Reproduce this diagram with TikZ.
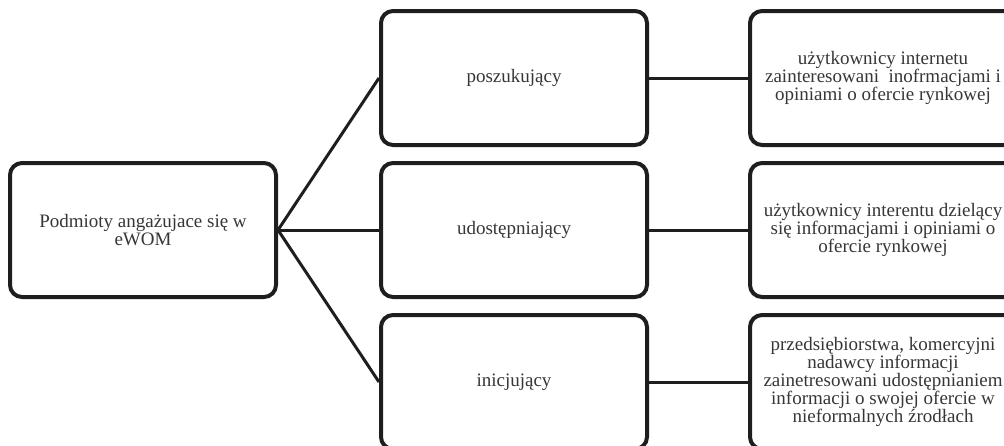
\documentclass[tikz,border=0pt]{standalone}
\usepackage{fontspec}
\setmainfont{Liberation Serif}
\definecolor{edge}{HTML}{1E1E1E}
\definecolor{txt}{HTML}{363636}
\begin{document}
\begin{tikzpicture}[x=1pt,y=-1pt,
  box/.style={draw=edge, line width=4pt, rounded corners=12pt, minimum width=266pt, minimum height=134pt, inner sep=0pt, align=center, text=txt, font=\fontsize{19}{18}\selectfont},
  link/.style={draw=edge, line width=3pt}]
\useasboundingbox (0,0) rectangle (1004,445);
\clip (0,0) rectangle (1004,445);
\node[box] (L) at (143,230) {Podmioty angażujace się w\\eWOM};
\node[box] (MT) at (514,78) {poszukujący};
\node[box] (MM) at (514,230) {udostępniający};
\node[box] (MB) at (514,382) {inicjujący};
\node[box] (RT) at (883,78) {użytkownicy internetu\\zainteresowani~ inofrmacjami i\\opiniami o ofercie rynkowej};
\node[box] (RM) at (883,230) {użytkownicy interentu dzielący\\się informacjami i opiniami o\\ofercie rynkowej};
\node[box] (RB) at (883,382) {przedsiębiorstwa, komercyjni\\nadawcy informacji\\zainetresowani udostępnianiem\\informacji o swojej ofercie w\\nieformalnych źrodłach};
\draw[link] (L.east) -- (MT.west);
\draw[link] (L.east) -- (MM.west);
\draw[link] (L.east) -- (MB.west);
\draw[link] (MT.east) -- (RT.west);
\draw[link] (MM.east) -- (RM.west);
\draw[link] (MB.east) -- (RB.west);
\end{tikzpicture}
\end{document}
